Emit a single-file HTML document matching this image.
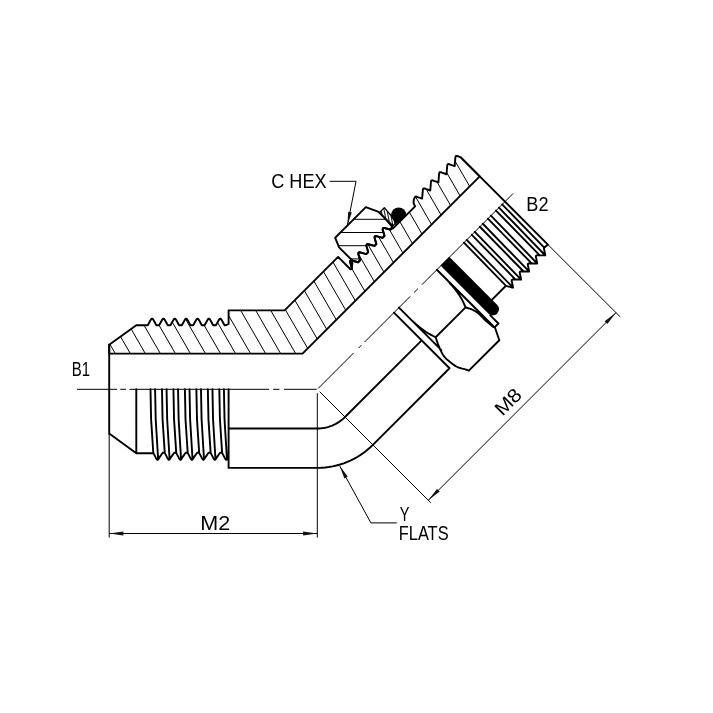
<!DOCTYPE html>
<html><head><meta charset="utf-8"><title>Fitting drawing</title>
<style>html,body{margin:0;padding:0;background:#fff}svg{display:block;filter:grayscale(1)}</style></head>
<body>
<svg width="713" height="713" viewBox="0 0 713 713">
<defs>
<clipPath id="cb"><path d="M109.20 353.60L109.20 344.70L136.30 325.20L146.40 325.20L147.76 325.20L150.38 320.49L151.17 319.19L152.08 318.69L152.99 319.19L153.78 320.49L156.40 325.20L157.76 325.20L159.12 325.20L161.74 320.49L162.53 319.19L163.44 318.69L164.35 319.19L165.14 320.49L167.76 325.20L169.12 325.20L170.48 325.20L173.10 320.49L173.89 319.19L174.80 318.69L175.71 319.19L176.50 320.49L179.12 325.20L180.48 325.20L181.84 325.20L184.46 320.49L185.25 319.19L186.16 318.69L187.07 319.19L187.86 320.49L190.48 325.20L191.84 325.20L193.20 325.20L195.82 320.49L196.61 319.19L197.52 318.69L198.43 319.19L199.22 320.49L201.84 325.20L203.20 325.20L204.56 325.20L207.18 320.49L207.97 319.19L208.88 318.69L209.79 319.19L210.58 320.49L213.20 325.20L214.56 325.20L215.92 325.20L218.54 320.49L219.33 319.19L220.24 318.69L221.15 319.19L221.94 320.49L224.56 325.20L225.92 325.20L228.60 324.00L228.60 310.40L284.62 310.40L338.09 256.93L350.39 269.23L350.96 269.37L351.93 268.40L350.47 263.20L350.12 261.71L350.42 260.71L351.42 260.41L352.91 260.76L358.11 262.22L359.09 261.24L360.07 260.27L358.60 255.06L358.25 253.58L358.55 252.57L359.55 252.27L361.04 252.63L366.25 254.09L367.22 253.11L368.20 252.14L366.74 246.93L366.38 245.44L366.68 244.44L367.69 244.14L369.18 244.49L374.38 245.96L375.35 244.98L376.33 244.00L374.87 238.80L374.52 237.31L374.82 236.31L375.82 236.01L377.31 236.36L382.51 237.82L383.49 236.85L384.46 235.87L383.00 230.67L382.65 229.18L382.95 228.18L383.95 227.88L385.44 228.23L390.64 229.69L391.62 228.72L393.03 228.43L415.09 206.37L413.54 202.98L413.82 199.44L415.25 196.63L416.29 196.53L417.65 197.07L422.13 198.63L422.74 191.11L422.94 189.36L423.38 188.49L424.42 188.40L425.78 188.94L430.26 190.50L430.88 182.98L431.07 181.23L431.51 180.36L432.55 180.27L433.91 180.81L438.39 182.37L439.01 174.85L439.21 173.10L439.64 172.23L440.69 172.14L442.04 172.68L446.52 174.23L447.14 166.72L447.34 164.96L447.77 164.10L448.82 164.00L450.17 164.55L454.66 166.10L455.27 158.59L455.47 156.83L455.90 155.97L457.10 155.88L460.77 157.44L479.72 176.39L302.51 353.60Z"/></clipPath>
<clipPath id="cn"><path d="M352.51 260.75L339.08 247.31L335.19 237.77L365.81 207.15L378.68 211.96L392.47 225.75L390.64 229.69L385.44 228.23L383.95 227.88L382.95 228.18L382.65 229.18L383.00 230.67L384.46 235.87L383.49 236.85L382.51 237.82L377.31 236.36L375.82 236.01L374.82 236.31L374.52 237.31L374.87 238.80L376.33 244.00L375.35 244.98L374.38 245.96L369.18 244.49L367.69 244.14L366.68 244.44L366.38 245.44L366.74 246.93L368.20 252.14L367.22 253.11L366.25 254.09L361.04 252.63L359.55 252.27L358.55 252.57L358.25 253.58L358.60 255.06L360.07 260.27L359.09 261.24L358.11 262.22L352.91 260.76L351.42 260.41L350.42 260.71L350.12 261.71L350.47 263.20L351.93 268.40Z"/></clipPath>
<clipPath id="cw"><path d="M379.60 212.40L384.30 207.70L396.60 222.00L391.90 226.90Z"/></clipPath>
<clipPath id="co"><path d="M387.87 233.60L416.15 205.31L395.08 184.24L366.80 212.52Z"/></clipPath>
</defs>
<rect width="713" height="713" fill="#fff"/>
<g clip-path="url(#cb)" fill="none" stroke="#000" stroke-width="1"><path d="M96.79 373.60L-64.88 93.60M111.82 373.60L-49.85 93.60M126.85 373.60L-34.82 93.60M141.88 373.60L-19.79 93.60M156.91 373.60L-4.76 93.60M171.94 373.60L10.27 93.60M186.97 373.60L25.30 93.60M202.00 373.60L40.33 93.60M217.03 373.60L55.36 93.60M232.06 373.60L70.39 93.60M247.09 373.60L85.42 93.60M262.12 373.60L100.45 93.60M277.15 373.60L115.48 93.60M292.18 373.60L130.51 93.60M307.21 373.60L145.54 93.60M322.24 373.60L160.57 93.60M337.27 373.60L175.60 93.60M352.30 373.60L190.63 93.60M367.33 373.60L205.66 93.60M382.36 373.60L220.69 93.60M397.39 373.60L235.72 93.60M412.42 373.60L250.75 93.60M427.45 373.60L265.78 93.60M442.48 373.60L280.81 93.60M457.51 373.60L295.84 93.60M472.54 373.60L310.87 93.60M487.57 373.60L325.90 93.60M502.60 373.60L340.93 93.60M517.63 373.60L355.96 93.60M532.66 373.60L370.99 93.60M547.69 373.60L386.02 93.60M562.72 373.60L401.05 93.60M577.75 373.60L416.08 93.60M592.78 373.60L431.11 93.60M607.81 373.60L446.14 93.60M622.84 373.60L461.17 93.60M637.87 373.60L476.20 93.60M652.90 373.60L491.23 93.60M667.93 373.60L506.26 93.60M682.96 373.60L521.29 93.60M697.99 373.60L536.32 93.60M713.02 373.60L551.35 93.60"/></g>
<g clip-path="url(#cn)" fill="none" stroke="#000" stroke-width="1"><path d="M320.00 206.10L400.00 206.10M320.00 219.30L400.00 219.30M320.00 232.50L400.00 232.50M320.00 245.70L400.00 245.70M320.00 258.90L400.00 258.90"/></g>
<g clip-path="url(#cw)" fill="none" stroke="#222" stroke-width="1.1"><path d="M341.60 200.00L349.20 240.00M344.50 200.00L352.10 240.00M347.40 200.00L355.00 240.00M350.30 200.00L357.90 240.00M353.20 200.00L360.80 240.00M356.10 200.00L363.70 240.00M359.00 200.00L366.60 240.00M361.90 200.00L369.50 240.00M364.80 200.00L372.40 240.00M367.70 200.00L375.30 240.00M370.60 200.00L378.20 240.00M373.50 200.00L381.10 240.00M376.40 200.00L384.00 240.00M379.30 200.00L386.90 240.00M382.20 200.00L389.80 240.00M385.10 200.00L392.70 240.00M388.00 200.00L395.60 240.00M390.90 200.00L398.50 240.00M393.80 200.00L401.40 240.00M396.70 200.00L404.30 240.00M399.60 200.00L407.20 240.00M402.50 200.00L410.10 240.00M405.40 200.00L413.00 240.00M408.30 200.00L415.90 240.00M411.20 200.00L418.80 240.00M414.10 200.00L421.70 240.00M417.00 200.00L424.60 240.00M419.90 200.00L427.50 240.00M422.80 200.00L430.40 240.00M425.70 200.00L433.30 240.00M428.60 200.00L436.20 240.00M431.50 200.00L439.10 240.00M434.40 200.00L442.00 240.00M437.30 200.00L444.90 240.00M440.20 200.00L447.80 240.00M443.10 200.00L450.70 240.00M446.00 200.00L453.60 240.00M448.90 200.00L456.50 240.00M451.80 200.00L459.40 240.00M454.70 200.00L462.30 240.00"/></g>
<g clip-path="url(#co)"><circle cx="398.70" cy="214.90" r="7.5" fill="#000"/><path d="M391.2 213.6L395.2 225.0L405.0 215.6Z" fill="#000"/></g>
<g transform="translate(440.48 265.56) rotate(45)"><path d="M0 0H68a6 6 0 0 0 6-6V-6.4a6 6 0 0 0-6-6H0Z" fill="#000"/></g>
<path d="M109.20 353.60L109.20 344.70L136.30 325.20L146.40 325.20L147.76 325.20L150.38 320.49L151.17 319.19L152.08 318.69L152.99 319.19L153.78 320.49L156.40 325.20L157.76 325.20L159.12 325.20L161.74 320.49L162.53 319.19L163.44 318.69L164.35 319.19L165.14 320.49L167.76 325.20L169.12 325.20L170.48 325.20L173.10 320.49L173.89 319.19L174.80 318.69L175.71 319.19L176.50 320.49L179.12 325.20L180.48 325.20L181.84 325.20L184.46 320.49L185.25 319.19L186.16 318.69L187.07 319.19L187.86 320.49L190.48 325.20L191.84 325.20L193.20 325.20L195.82 320.49L196.61 319.19L197.52 318.69L198.43 319.19L199.22 320.49L201.84 325.20L203.20 325.20L204.56 325.20L207.18 320.49L207.97 319.19L208.88 318.69L209.79 319.19L210.58 320.49L213.20 325.20L214.56 325.20L215.92 325.20L218.54 320.49L219.33 319.19L220.24 318.69L221.15 319.19L221.94 320.49L224.56 325.20L225.92 325.20L228.60 324.00L228.60 310.40L284.62 310.40L338.09 256.93L350.39 269.23L350.96 269.37L351.93 268.40L350.47 263.20L350.12 261.71L350.42 260.71L351.42 260.41L352.91 260.76L358.11 262.22L359.09 261.24L360.07 260.27L358.60 255.06L358.25 253.58L358.55 252.57L359.55 252.27L361.04 252.63L366.25 254.09L367.22 253.11L368.20 252.14L366.74 246.93L366.38 245.44L366.68 244.44L367.69 244.14L369.18 244.49L374.38 245.96L375.35 244.98L376.33 244.00L374.87 238.80L374.52 237.31L374.82 236.31L375.82 236.01L377.31 236.36L382.51 237.82L383.49 236.85L384.46 235.87L383.00 230.67L382.65 229.18L382.95 228.18L383.95 227.88L385.44 228.23L390.64 229.69L391.62 228.72L393.03 228.43L415.09 206.37L413.54 202.98L413.82 199.44L415.25 196.63L416.29 196.53L417.65 197.07L422.13 198.63L422.74 191.11L422.94 189.36L423.38 188.49L424.42 188.40L425.78 188.94L430.26 190.50L430.88 182.98L431.07 181.23L431.51 180.36L432.55 180.27L433.91 180.81L438.39 182.37L439.01 174.85L439.21 173.10L439.64 172.23L440.69 172.14L442.04 172.68L446.52 174.23L447.14 166.72L447.34 164.96L447.77 164.10L448.82 164.00L450.17 164.55L454.66 166.10L455.27 158.59L455.47 156.83L455.90 155.97L457.10 155.88L460.77 157.44L479.72 176.39L302.51 353.60Z" fill="none" stroke="#000" stroke-width="1.9" stroke-linejoin="round" stroke-linecap="round"/>
<path d="M352.51 260.75L339.08 247.31L335.19 237.77L365.81 207.15L378.68 211.96L392.47 225.75L390.64 229.69L385.44 228.23L383.95 227.88L382.95 228.18L382.65 229.18L383.00 230.67L384.46 235.87L383.49 236.85L382.51 237.82L377.31 236.36L375.82 236.01L374.82 236.31L374.52 237.31L374.87 238.80L376.33 244.00L375.35 244.98L374.38 245.96L369.18 244.49L367.69 244.14L366.68 244.44L366.38 245.44L366.74 246.93L368.20 252.14L367.22 253.11L366.25 254.09L361.04 252.63L359.55 252.27L358.55 252.57L358.25 253.58L358.60 255.06L360.07 260.27L359.09 261.24L358.11 262.22L352.91 260.76L351.42 260.41L350.42 260.71L350.12 261.71L350.47 263.20L351.93 268.40Z" fill="none" stroke="#000" stroke-width="1.9" stroke-linejoin="round" stroke-linecap="round"/>
<path d="M379.60 212.40L384.30 207.70L396.60 222.00L391.90 226.90Z" fill="none" stroke="#000"  stroke-linejoin="round" stroke-linecap="round" stroke-width="1.3"/>
<path d="M109.20 344.70L109.20 433.90M109.20 433.50L136.30 453.20L152.60 453.20L153.30 452.90L155.90 457.90L156.90 459.50L157.50 459.90L158.10 459.50L159.10 457.90L162.70 452.70L164.77 452.90L167.37 457.90L168.37 459.50L168.97 459.90L169.57 459.50L170.57 457.90L174.17 452.70L176.24 452.90L178.84 457.90L179.84 459.50L180.44 459.90L181.04 459.50L182.04 457.90L185.64 452.70L187.71 452.90L190.31 457.90L191.31 459.50L191.91 459.90L192.51 459.50L193.51 457.90L197.11 452.70L199.18 452.90L201.78 457.90L202.78 459.50L203.38 459.90L203.98 459.50L204.98 457.90L208.58 452.70L210.65 452.90L213.25 457.90L214.25 459.50L214.85 459.90L215.45 459.50L216.45 457.90L220.05 452.70L222.12 452.90L224.72 457.90L225.72 459.50L226.32 459.90L226.92 459.50L227.92 457.90L228.60 456.30M136.30 389.30L136.30 453.20M228.60 389.30L228.60 467.80M150.50 389.30L151.10 419.30L153.30 452.90M155.10 389.30L155.70 419.30L158.10 458.80M161.97 389.30L162.57 419.30L164.77 452.90M166.57 389.30L167.17 419.30L169.57 458.80M173.44 389.30L174.04 419.30L176.24 452.90M178.04 389.30L178.64 419.30L181.04 458.80M184.91 389.30L185.51 419.30L187.71 452.90M189.51 389.30L190.11 419.30L192.51 458.80M196.38 389.30L196.98 419.30L199.18 452.90M200.98 389.30L201.58 419.30L203.98 458.80M207.85 389.30L208.45 419.30L210.65 452.90M212.45 389.30L213.05 419.30L215.45 458.80M219.32 389.30L219.92 419.30L222.12 452.90M223.92 389.30L224.52 419.30L226.92 458.80M228.60 428.50L317.30 428.50L319.22 428.45L321.14 428.31L323.05 428.08L324.95 427.75L326.82 427.33L328.68 426.81L330.51 426.21L332.30 425.52L334.06 424.74L335.78 423.87L337.45 422.92L339.08 421.89L340.65 420.79L342.17 419.60L343.63 418.35L345.02 417.02L421.67 340.37M228.60 467.90L317.30 467.90L321.16 467.81L325.00 467.52L328.83 467.05L332.63 466.39L336.40 465.54L340.12 464.52L343.78 463.31L347.38 461.92L350.91 460.35L354.35 458.62L357.71 456.72L360.97 454.65L364.12 452.43L367.16 450.06L370.08 447.54L372.88 444.88L449.53 368.23M393.95 312.65L449.53 368.23M398.97 307.63L441.40 350.06M411.70 320.36L412.28 320.87L413.04 321.55L413.95 322.37L414.97 323.27L416.05 324.22L417.15 325.18L418.24 326.10L419.26 326.93L420.26 327.72L421.27 328.50L422.29 329.28L423.33 330.04L424.36 330.79L425.40 331.51L426.44 332.21L427.47 332.87L428.55 333.53L429.71 334.18L430.90 334.82L432.08 335.44L433.19 336.00L434.20 336.51L435.04 336.93L435.67 337.26M435.67 337.26L435.82 337.71L436.01 338.30L436.23 339.01L436.48 339.80L436.76 340.65L437.05 341.51L437.35 342.37L437.65 343.20L437.96 344.01L438.28 344.85L438.62 345.71L438.98 346.58L439.34 347.45L439.71 348.32L440.09 349.16L440.48 349.98L440.87 350.79L441.27 351.60L441.68 352.39L442.09 353.18L442.52 353.95L442.96 354.69L443.41 355.40L443.87 356.07L444.32 356.68L444.75 357.22L445.18 357.72L445.62 358.20L446.11 358.69L446.66 359.20L447.30 359.75L448.04 360.38L448.92 361.10L449.92 361.92L451.01 362.78L452.16 363.67L453.34 364.55L454.53 365.37L455.70 366.12L456.81 366.74L457.92 367.25L459.07 367.67L460.23 368.03L461.38 368.33L462.49 368.58L463.53 368.82L464.48 369.05L465.30 369.29L466.00 369.53L466.61 369.76L467.14 369.96L467.60 370.16L467.98 370.33L468.31 370.48L468.59 370.60L468.83 370.70M435.67 337.26L465.58 307.35M468.83 370.70L499.31 340.23M449.39 282.67L449.90 283.25L450.58 284.02L451.39 284.94L452.29 285.96L453.23 287.04L454.17 288.16L455.08 289.26L455.89 290.31L456.65 291.32L457.40 292.37L458.15 293.42L458.88 294.49L459.58 295.57L460.27 296.64L460.93 297.72L461.55 298.79L462.16 299.91L462.77 301.12L463.36 302.37L463.92 303.60L464.44 304.76L464.89 305.81L465.28 306.69L465.58 307.35M465.58 307.35L466.12 307.52L466.84 307.74L467.70 308.00L468.66 308.30L469.66 308.63L470.66 308.98L471.63 309.36L472.51 309.75L473.32 310.15L474.11 310.57L474.88 311.01L475.64 311.47L476.40 311.97L477.17 312.50L477.94 313.08L478.73 313.71L479.53 314.41L480.32 315.17L481.11 315.98L481.91 316.82L482.72 317.69L483.55 318.57L484.41 319.44L485.31 320.29L486.30 321.17L487.41 322.13L488.58 323.11L489.75 324.09L490.87 325.02L491.89 325.85L492.74 326.55L493.37 327.07M499.31 340.23L495.21 328.21L494.57 327.00M436.87 269.73L494.36 327.22M494.57 327.43L498.46 323.54L490.26 315.34M492.10 299.64L505.96 285.78M506.03 285.85L512.25 287.55L513.03 287.62L512.89 286.77L511.61 280.26L512.32 279.56L520.31 279.49L521.09 279.56L520.95 278.71L519.67 272.20L520.38 271.50L528.37 271.43L529.15 271.50L529.01 270.65L527.73 264.14L528.44 263.43L536.43 263.36L537.21 263.43L537.07 262.59L535.80 256.08L536.50 255.37L544.49 255.30L545.27 255.37L545.13 254.53L543.86 248.02L547.89 244.56M463.95 242.65L506.03 285.85M466.71 239.89L512.89 287.48M471.80 234.80L515.57 279.56M474.77 231.83L520.95 279.42M479.86 226.74L523.63 271.50M482.83 223.77L529.01 271.35M487.92 218.68L531.69 263.43M490.89 215.71L537.07 263.29M495.99 210.61L539.76 255.37M498.96 207.64L545.13 255.23M502.14 204.46L544.28 247.60M460.77 157.44L547.89 244.56" fill="none" stroke="#000" stroke-width="1.9" stroke-linejoin="round" stroke-linecap="round"/>
<path d="M77.00 389.30L117.00 389.30M120.30 389.30L126.00 389.30M129.40 389.30L269.10 389.30M273.20 389.30L279.40 389.30M284.00 389.30L316.70 389.30M318.15 388.45L353.57 353.03M358.52 348.08L361.49 345.11M364.46 342.14L410.14 296.46M414.03 292.57L417.99 288.61M421.88 284.72L513.17 193.43M109.20 434.00L109.20 537.60M317.30 393.20L317.30 537.60M109.20 533.50L317.30 533.50M319.77 391.77L430.79 502.79M547.89 244.56L620.22 316.89M428.32 500.32L615.98 312.65M329.60 181.30L356.00 181.30L347.50 224.80M396.80 522.90L370.90 522.90L339.80 466.10" fill="none" stroke="#000" stroke-width="1"/>
<path d="M109.20 533.50L123.40 531.60L123.40 535.40ZM317.30 533.50L303.10 535.40L303.10 531.60ZM428.32 500.32L437.01 488.93L439.70 491.62ZM615.98 312.65L607.28 324.03L604.60 321.35ZM347.50 224.80L348.13 211.68L351.86 212.41ZM339.80 466.10L347.71 476.59L344.38 478.42Z" fill="#111"/>
<text transform="translate(71.80 375.50) scale(0.774 1)" font-family="Liberation Sans, sans-serif" font-size="19.3" fill="#000">B1</text>
<text transform="translate(526.30 210.70) scale(0.941 1)" font-family="Liberation Sans, sans-serif" font-size="19.3" fill="#000">B2</text>
<text transform="translate(200.20 529.70) scale(1.118 1)" font-family="Liberation Sans, sans-serif" font-size="19.3" fill="#000">M2</text>
<text transform="translate(271.20 188.20) scale(0.940 1)" font-family="Liberation Sans, sans-serif" font-size="19.3" fill="#000">C HEX</text>
<text transform="translate(399.80 520.80) scale(0.750 1)" font-family="Liberation Sans, sans-serif" font-size="19.3" fill="#000">Y</text>
<text transform="translate(398.75 539.70) scale(0.850 1)" font-family="Liberation Sans, sans-serif" font-size="19.3" fill="#000">FLATS</text>
<text transform="translate(502.40 416.80) rotate(-45) scale(1.087 1)" font-family="Liberation Sans, sans-serif" font-size="19.3" fill="#000">M8</text>
</svg>
</body></html>
